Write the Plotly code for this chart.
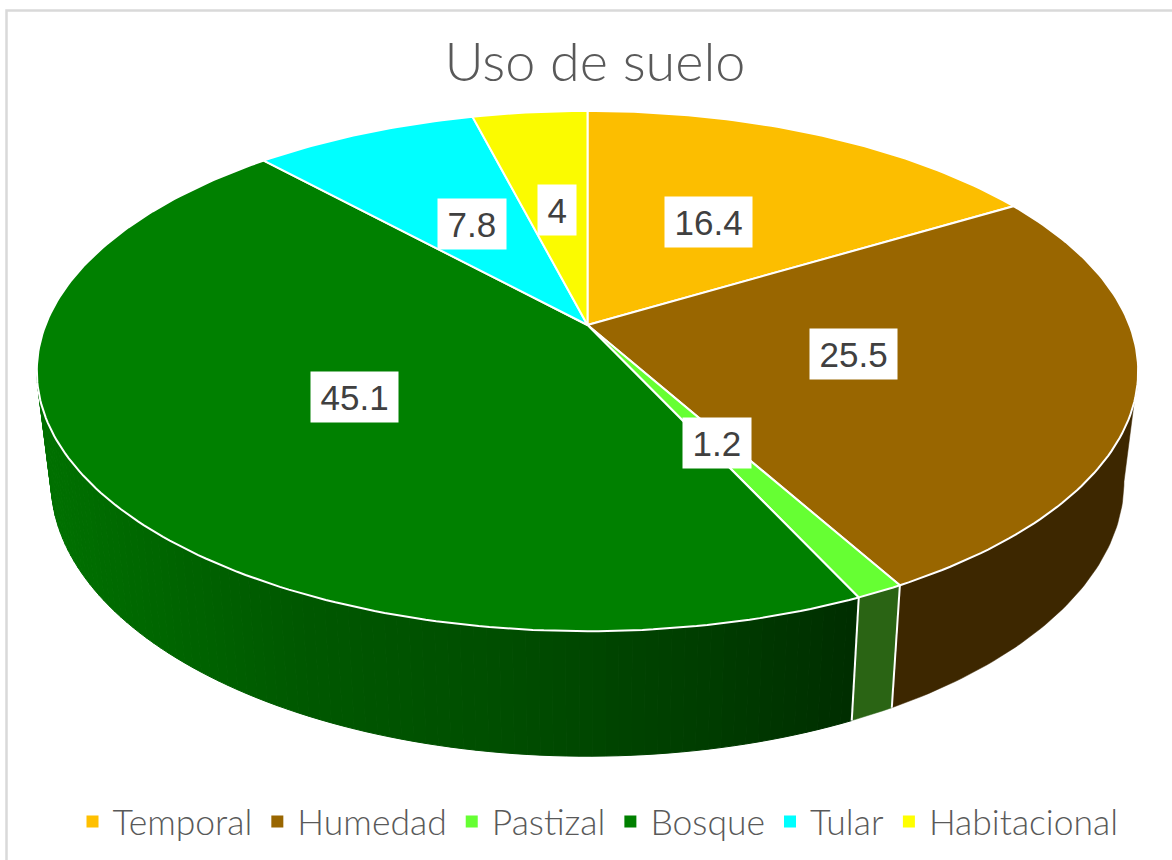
import math
import plotly.graph_objects as go

# ---- data ----
categories = ["Temporal", "Humedad", "Pastizal", "Bosque", "Tular", "Habitacional"]
values = [16.4, 25.5, 1.2, 45.1, 7.8, 4]
value_labels = ["16.4", "25.5", "1.2", "45.1", "7.8", "4"]
title_text = "Uso de suelo"

# ---- styles ----
top_colors = ["#FCBE00", "#996600", "#66FF33", "#008000", "#00FFFF", "#FBFB00"]
legend_colors = ["#FFC000", "#996600", "#66FF33", "#008000", "#00FFFF", "#FFFF00"]
wall_colors = ["#5a4400", "#3D2700", "#2A6414", None, "#006666", "#666600"]
bosque_wall_stops = [(50, (0, 112, 0)), (300, (0, 88, 0)), (500, (0, 78, 0)),
                     (700, (0, 62, 0)), (860, (0, 46, 0))]
TEXT = "#595959"
LABEL = "#404040"
label_nudges = [(-1, -3), (4, -4), (-1, -1), (-1, 0), (2, -0.5), (0, -2.5)]

# ---- projection of the tilted disc into the pixel-sized axes ----
CX, CY, A, B, K = 587.5, 325.0, 542.0, 252.0, 0.177
CY2, A2, B2 = 433.0, 528.0, 266.0


def top(theta, r=1.0):
    s, c = math.sin(theta) * r, math.cos(theta) * r
    d = 1 + K * c
    return CX + A * s / d, CY - B * c / d


def bottom(theta):
    s, c = math.sin(theta), math.cos(theta)
    d = 1 + K * c
    return CX + A2 * s / d, CY2 - B2 * c / d


def lerp_wall(x):
    st = bosque_wall_stops
    if x <= st[0][0]:
        rgb = st[0][1]
    elif x >= st[-1][0]:
        rgb = st[-1][1]
    else:
        for (x0, c0), (x1, c1) in zip(st, st[1:]):
            if x0 <= x <= x1:
                t = (x - x0) / (x1 - x0)
                rgb = tuple(round(a + (b - a) * t) for a, b in zip(c0, c1))
                break
    return "rgb(%d,%d,%d)" % tuple(rgb)


total = sum(values)
edges = [0.0]
for v in values:
    edges.append(edges[-1] + v / total * 2 * math.pi)

# the wall is visible between the two silhouette tangents of the disc
WALL_MIN, WALL_MAX = math.acos(-K), 2 * math.pi - math.acos(-K)

fig = go.Figure()


def poly(xs, ys, fill, line, width):
    fig.add_trace(go.Scatter(x=xs, y=ys, mode="lines", fill="toself", fillcolor=fill,
                             line=dict(color=line, width=width), showlegend=False,
                             hoverinfo="skip"))


# side wall
for i in range(len(values)):
    a0, a1 = max(edges[i], WALL_MIN), min(edges[i + 1], WALL_MAX)
    if a1 <= a0:
        continue
    if wall_colors[i] is None:
        n = 90
        for j in range(n):
            t0 = a0 + (a1 - a0) * j / n
            t1 = a0 + (a1 - a0) * (j + 1) / n
            p = [top(t0), top(t1), bottom(t1), bottom(t0), top(t0)]
            col = lerp_wall(p[0][0])
            poly([q[0] for q in p], [q[1] for q in p], col, col, 1)
    else:
        n = 60
        ts = [a0 + (a1 - a0) * j / n for j in range(n + 1)]
        p = [top(t) for t in ts] + [bottom(t) for t in reversed(ts)]
        p.append(p[0])
        poly([q[0] for q in p], [q[1] for q in p], wall_colors[i], wall_colors[i], 0.5)

# white seams on the wall
for e in edges[1:-1]:
    if WALL_MIN < e < WALL_MAX:
        p0, p1 = top(e), bottom(e)
        fig.add_trace(go.Scatter(x=[p0[0], p1[0]], y=[p0[1], p1[1]], mode="lines",
                                 line=dict(color="white", width=2), showlegend=False,
                                 hoverinfo="skip"))

# top face
for i in range(len(values)):
    a0, a1 = edges[i], edges[i + 1]
    n = max(6, int((a1 - a0) * 60))
    p = [(CX, CY)] + [top(a0 + (a1 - a0) * j / n) for j in range(n + 1)] + [(CX, CY)]
    poly([q[0] for q in p], [q[1] for q in p], top_colors[i], "white", 2)

# legend entries
for name, col in zip(categories, legend_colors):
    fig.add_trace(go.Scatter(x=[None], y=[None], mode="markers", name=name,
                             marker=dict(symbol="square", size=11, color=col)))

# value labels
annotations = []
for i, lab in enumerate(value_labels):
    mid = (edges[i] + edges[i + 1]) / 2
    x, y = top(mid, 0.49)
    em = sum(0.278 if ch == "." else 0.556 for ch in lab)
    annotations.append(dict(x=x + label_nudges[i][0], y=y + label_nudges[i][1],
                            xref="x", yref="y", text=lab, showarrow=False,
                            font=dict(family="Liberation Sans", size=35, color=LABEL),
                            bgcolor="white", width=em * 35 + 19, height=50, borderpad=0,
                            align="center", valign="middle"))

fig.update_layout(
    width=1172, height=860, margin=dict(l=0, r=0, t=0, b=0),
    paper_bgcolor="white", plot_bgcolor="white",
    xaxis=dict(range=[0, 1172], visible=False, fixedrange=True),
    yaxis=dict(range=[860, 0], visible=False, fixedrange=True),
    title=dict(text=title_text, x=595 / 1172, xanchor="center", y=1 - 62 / 860, yanchor="middle",
               font=dict(family="Lato", size=54, color=TEXT, weight=300)),
    legend=dict(orientation="h", x=598 / 1172, xanchor="center", y=1 - 822 / 860, yanchor="middle",
                font=dict(family="Lato", size=35.5, color=TEXT, weight=300), itemsizing="constant",
                bgcolor="rgba(0,0,0,0)"),
    annotations=annotations,
    shapes=[dict(type="path", path="M 6.5 860 L 6.5 10.5 L 1172 10.5",
                 xref="x", yref="y", line=dict(color="#D9D9D9", width=2.5))],
)

fig.write_html("out.html", config={"displayModeBar": False},
               post_script="document.body.style.margin='0';")
